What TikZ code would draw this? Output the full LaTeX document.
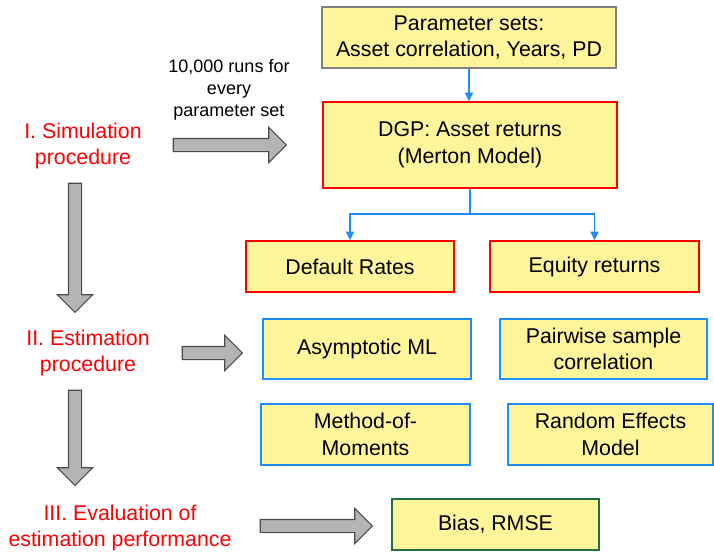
\documentclass[tikz,border=0pt]{standalone}
\usepackage{fontspec}
\setmainfont{Liberation Sans}
\usepackage{xcolor}
\usetikzlibrary{arrows.meta, shapes.arrows, positioning}
\definecolor{boxfill}{RGB}{255,245,155}
\definecolor{boxred}{RGB}{255,0,0}
\definecolor{boxblue}{RGB}{30,140,255}
\definecolor{boxgreen}{RGB}{35,110,65}
\definecolor{boxgrey}{RGB}{128,128,128}
\definecolor{fatfill}{RGB}{180,180,180}
\newcommand{\px}{0.75pt}
\newcommand{\stagecolor}{boxred}

\begin{document}
\begin{tikzpicture}[
      x=\px, y=-\px,
      % GLOBAL CFG
      font=\fontsize{16}{20}\selectfont,
      >={Triangle[length=6.5pt,width=6pt]},
      % Styles
      box/.style={% For yellow boxes
        rectangle,
        draw,
        line width=1.2pt,
        fill=boxfill,
        align=center,
        inner sep=2pt
      },
      stage/.style={% For the red stage labels
        align=center,
        text=\stagecolor,
        inner sep=0pt
      },
      fatarrow/.style={% Grey block arrows
        single arrow,
        draw=black!70,
        fill=fatfill,
        line width=0.8pt,
        inner xsep=0pt,
        inner ysep=6*\px,
        single arrow head extend=11*\px,
        single arrow head indent=0pt
      },
      arrowsplit/.style={% Blue connectors
        draw=boxblue,
        line width=1.2pt,
        ->
      }
      ]
      \useasboundingbox (0,0) rectangle (714,551);

      % Boxes on the right
      \node [box, draw=boxgrey, minimum width=294*\px, minimum height=61*\px] (params) at (469,37.5)
        {Parameter sets:\\Asset correlation, Years, PD};
      \node [box, draw=boxred, minimum width=294*\px, minimum height=86*\px] (dgp) at (470,145)
        {DGP: Asset returns\\(Merton Model)};
      \node [box, draw=boxred, minimum width=208*\px, minimum height=51*\px] (default) at (350,266.5)
        {Default Rates};
      \node [box, draw=boxred, minimum width=209*\px, minimum height=51*\px] (equity) at (594.5,266.5)
        {Equity returns};
      \node [box, draw=boxblue, minimum width=208*\px, minimum height=60*\px] (asympml) at (367,349)
        {Asymptotic ML};
      \node [box, draw=boxblue, minimum width=207*\px, minimum height=60*\px] (pairwise) at (603.5,349)
        {Pairwise sample\\correlation};
      \node [box, draw=boxblue, minimum width=209*\px, minimum height=61*\px] (mom) at (365.5,434.5)
        {Method-of-\\Moments};
      \node [box, draw=boxblue, minimum width=205*\px, minimum height=61*\px] (randeff) at (610.5,434.5)
        {Random Effects\\Model};
      \node [box, draw=boxgreen, minimum width=207*\px, minimum height=51*\px] (bias) at (495.5,524.5)
        {Bias, RMSE};

      % Stage labels
      \node [stage] (stage1) at (83,146) {I. Simulation\\procedure};
      \node [stage] (stage2) at (88,353) {II. Estimation\\procedure};
      \node [stage] (stage3) at (120,528) {III. Evaluation of\\estimation performance};
      \node [align=center, inner sep=0pt, font=\fontsize{13.5}{16.5}\selectfont] (runs) at (229,90)
        {10,000 runs for\\every\\parameter set};

      % Block arrows
      \node [fatarrow, minimum height=113*\px] (fat1) at (226.5,145) {};
      \node [fatarrow, minimum height=60*\px] (fat2) at (209,353) {};
      \node [fatarrow, minimum height=112*\px] (fat3) at (313,526) {};
      \node [fatarrow, rotate=-90, minimum height=129*\px] (down1) at (75,244.5) {};
      \node [fatarrow, rotate=-90, minimum height=95*\px] (down2) at (75,434.5) {};

      % Connectors
      \coordinate (split) at (470,214);
      \draw [arrowsplit] (params) -- (params |- dgp.north);
      \draw [arrowsplit] (dgp.south) -- (split) -| (default.north);
      \draw [arrowsplit] (split) -| (equity.north);
    \end{tikzpicture}
\end{document}
